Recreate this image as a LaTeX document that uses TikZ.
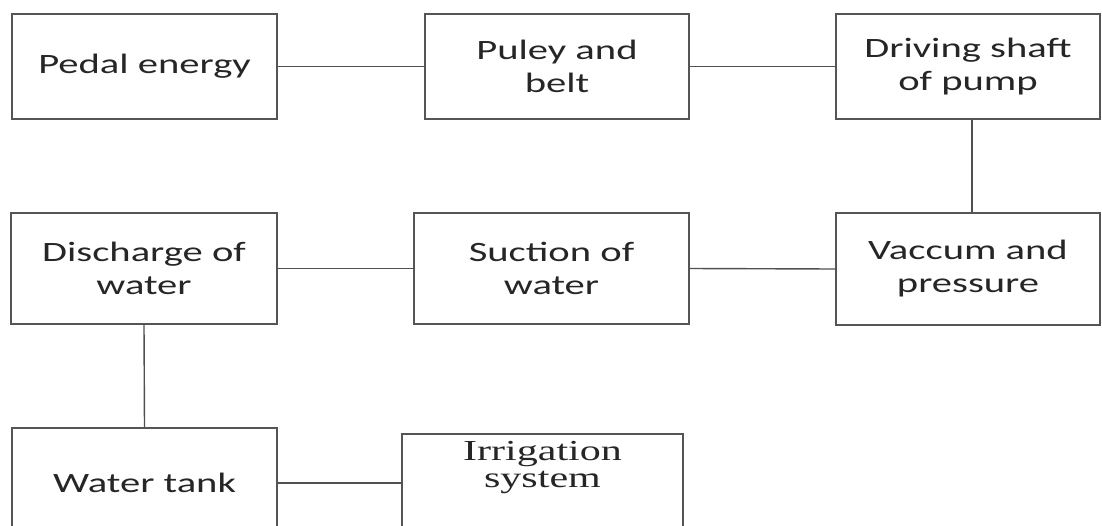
\documentclass[tikz,border=0pt]{standalone}
\usepackage{fontspec}
\setmainfont{Carlito}[FakeStretch=1.45]
\newfontfamily\serifface{Liberation Serif}[FakeStretch=1.45]
\definecolor{boxgray}{HTML}{555555}
\definecolor{linegray}{HTML}{505050}
\definecolor{textdark}{HTML}{262626}
\newcommand{\boxfont}{\fontsize{28}{33}\selectfont}
\newcommand{\irrfont}{\serifface\fontsize{29}{27}\selectfont}
\begin{document}
\begin{tikzpicture}[x=1pt,y=-1pt,
  box/.style={draw=boxgray, line width=1.7pt, fill=white, align=center,
              font=\boxfont, text=textdark, inner sep=0pt},
  link/.style={draw=linegray, line width=1.4pt}]
\useasboundingbox (0,0) rectangle (1102,525);
\clip (0,0) rectangle (1102,525);

% top row
\node[box, minimum width=265pt, minimum height=105pt] (pedal)   at (144.5,66.5) {Pedal energy};
\node[box, minimum width=264pt, minimum height=105pt] (pulley)  at (557,66.5)   {Puley and\\belt};
\node[box, minimum width=264pt, minimum height=105pt] (shaft)   at (968,66.5)   {Driving shaft\\of pump};

% middle row
\node[box, minimum width=266pt, minimum height=111pt] (disch)   at (144,268.5)  {Discharge of\\water};
\node[box, minimum width=275pt, minimum height=111pt] (suction) at (551.5,268.5){Suction of\\water};
\node[box, minimum width=264pt, minimum height=112pt] (vacuum)  at (968,269)    {Vaccum and\\pressure};

% bottom row
\node[box, minimum width=265pt, minimum height=110pt] (tank)    at (144.5,483)  {Water tank};
\node[box, minimum width=281pt, minimum height=98pt,
      label={[font=\irrfont, text=textdark, align=center, anchor=north, inner sep=0pt, yshift=-8pt]north:Irrigation\\system}]
      (irrig) at (542.5,483) {};

% connectors
\draw[link] (pedal.east) -- (pulley.west);
\draw[link] (pulley.east) -- (shaft.west);
\draw[link] ([xshift=4pt]shaft.south) -- ([xshift=4pt]vacuum.north);
\draw[link] (vacuum.west) -- (suction.east);
\draw[link] (suction.west) -- (disch.east);
\draw[link] (disch.south) -- (tank.north);
\draw[link] (tank.east) -- (irrig.west);
\end{tikzpicture}
\end{document}
